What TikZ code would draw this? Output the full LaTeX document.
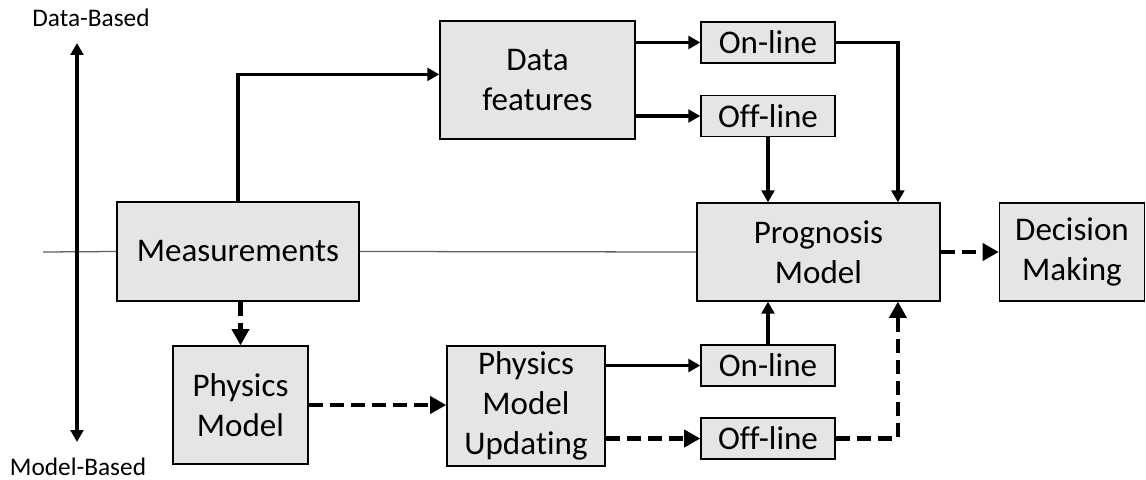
\documentclass[tikz,border=0pt]{standalone}
\usepackage{fontspec}
\setmainfont{Carlito}[Ligatures=NoCommon]
\usetikzlibrary{calc, positioning, arrows.meta}

\begin{document}
\begin{tikzpicture}[
    x=0.025cm, y=-0.025cm,
    block/.style={fill=gray!20, draw=black, line width=0.9pt, inner sep=0pt,
      align=center, font=\fontsize{23.5}{28.2}\selectfont},
    mode/.style={block, minimum width=3.35cm, minimum height=1.025cm},
    flow/.style={line width=2.5pt, -{Triangle[length=8.5pt, width=9pt]}},
    flowdash/.style={line width=3pt, dash pattern=on 10pt off 5pt,
      -{Triangle[length=11.5pt, width=12pt]}},
    axislbl/.style={font=\fontsize{18}{21}\selectfont, inner sep=0pt},
  ]
    \useasboundingbox (0,0) rectangle (1146,480);

    % blocks
    \node[block, minimum width=6.05cm, minimum height=2.475cm] (meas) at (238,251.5) {Measurements};
    \node[block, minimum width=4.875cm, minimum height=2.95cm] (feat) at (537.5,80) {Data\\features};
    \node[mode] (on1) at (768,42.5) {On-line};
    \node[mode] (off1) at (768,116) {Off-line};
    \node[block, minimum width=6.075cm, minimum height=2.45cm] (prog) at (818.5,252) {Prognosis\\Model};
    \node[block, minimum width=3.625cm, minimum height=2.45cm] (dec) at (1072,252) {Decision\\Making};
    \node[block, minimum width=3.375cm, minimum height=2.95cm] (phys) at (240.5,405) {Physics\\Model};
    \node[block, minimum width=3.95cm, minimum height=3cm] (upd) at (526,406) {Physics\\Model\\Upda\kern0pt ting};
    \node[mode] (on2) at (768,365.5) {On-line};
    \node[mode] (off2) at (768,438.5) {Off-line};

    % thin divider between the two branches
    \coordinate (divl) at (43,252);
    \draw[gray!75!black, line width=0.9pt] (divl) -- (meas.west);
    \draw[gray!75!black, line width=0.9pt] (meas.east) -- (prog.west);

    % data-based / model-based axis
    \node[axislbl] (datab) at (91,18) {Data-Based};
    \node[axislbl] (modelb) at (78,467) {Model-Based};
    \coordinate (axtop) at (77,43);
    \coordinate (axbot) at (77,442);
    \draw[line width=2.4pt, {Triangle[length=8.5pt, width=9pt]}-{Triangle[length=8.5pt, width=9pt]}] (axtop) -- (axbot);

    % data branch
    \draw[flow] (meas.north) |- ([yshift=4pt]feat.west);
    \draw[flow] (feat.east |- on1.west) -- (on1.west);
    \draw[flow] (feat.east |- off1.west) -- (off1.west);
    \draw[flow] (off1.south) -- (off1.south |- prog.north);
    \draw[flow] (on1.east) -| ($(prog.north east)!0.35!(prog.north)$);

    % model branch
    \draw[flowdash] (phys.north |- meas.south) -- (phys.north);
    \draw[flowdash] (phys.east) -- (phys.east -| upd.west);
    \draw[flow] (upd.east |- on2.west) -- (on2.west);
    \draw[flowdash] (upd.east |- off2.west) -- (off2.west);
    \draw[flow] (on2.north) -- (on2.north |- prog.south);
    \draw[flowdash] (off2.east) -| ($(prog.south east)!0.35!(prog.south)$);

    \draw[flowdash] (prog.east) -- (dec.west);
  \end{tikzpicture}
\end{document}
